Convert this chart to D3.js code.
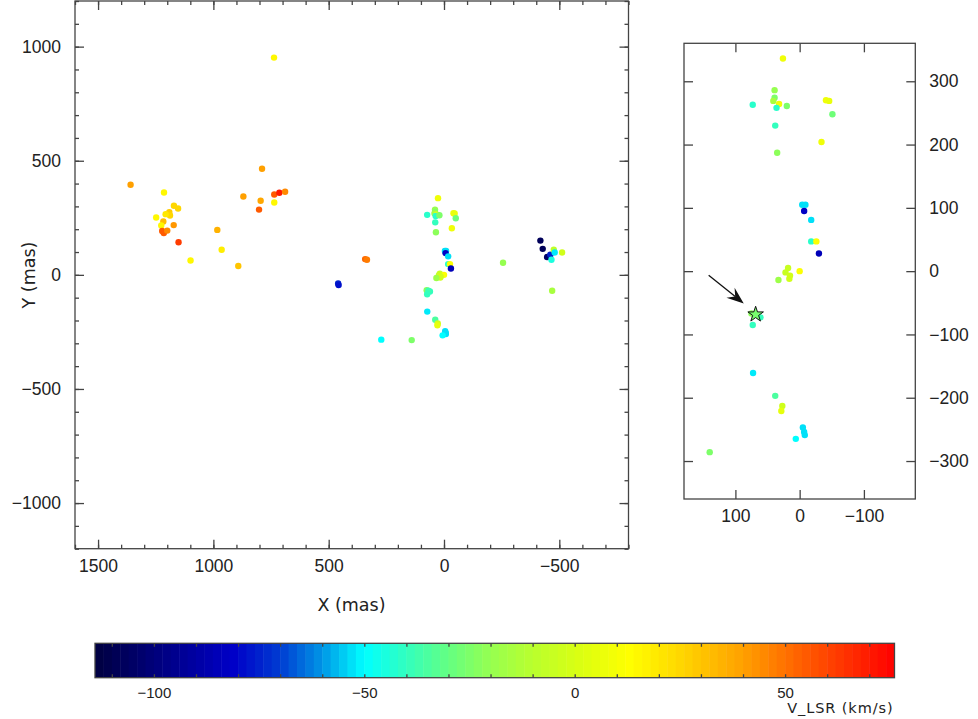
<!DOCTYPE html>
<html><head><meta charset="utf-8">
<script src="https://cdn.jsdelivr.net/npm/d3@7"></script>
<style>
body{margin:0;background:#fff;}
svg{display:block;font-family:"DejaVu Sans",sans-serif;}
.axis path{display:none;}
.axis line{stroke:#444;stroke-width:1.3;}
.axis text{fill:#222;}
</style></head>
<body>
<svg id="c" width="978" height="719"></svg>
<script>
// ---- data: maser spots (x, y in mas; v = V_LSR km/s) ----
const spotX = [1359,1214,1171,1153,1191,1188,1207,1248,1217,1226,1172,1222,1215,1200,1151,1099,983,964,892,789,870,795,802,736,714,689,736,737,
  459,457,342,334,272,-256,
  -418,-428,-447,-461,-476,-480,-466,-512,-469,
  26,39,73,39,41,32,36,20,-41,-46,-51,38,-34,35,-4,-9,-7,-18,-18,-26,-30,18,0,22,15,16,33,75,61,68,73,72.5,38,27,28.5,-5,-7,-8,6,140];
const spotY = [395,361,303,291,275,260,266,251,234,216,218,192,183,194,143,63,197,110,39,465,343,325,286,352,360,364,317,952,
  -38,-45,69,66,-284,53,
  150,114,78,88,110,98,66,98,-70,
  336,286,263,274,269,264,258,261,270,269,248,230,204,187,105,105,95,81,47,47,28,5,0,-2,-7,-12,-14,-67,-73,-69,-85,-161,-197,-213,-221,-247,-254,-259,-265,-286];
const spotV = [40,15,25,25,28,25,20,15,32,15,42,55,55,45,62,15,35,18,30,40,40,38,55,55,70,45,15,15,
  -75,-78,52,48,-50,-20,
  -108,-108,-105,-75,-8,-52,-45,-2,-15,
  8,-20,-42,-25,-15,8,-42,-25,8,6,-28,-40,8,-22,-53,-53,-82,-53,-42,12,-85,-5,12,-5,-2,-2,-18,-22,-40,-38,-40,-52,-35,-3,5,-53,-53,-53,-50,-25];

// reference star and arrow (inset units, mas)
const starPos = [68.5, -68.4];
const starV = -26;
const arrowFrom = [141.6, -6.3];
const arrowTo = [87, -51];

// axis ticks
const mainXTicks = [1500,1000,500,0,-500];
const mainYTicks = [-1000,-500,0,500,1000];
const insetTicksX = [100,0,-100];
const insetTicksY = [-300,-200,-100,0,100,200,300];
const cbarTicks = [-100,-50,0,50];

// colormap stops
const cmapV = [-114,-81,-70,-60,-50,-40,-30,-20,-10,0,13,25,40,55,76];
const cmapC = ["#000040","#0000c8","#003cd2","#0096e6","#00ffff","#32ffbe","#64ff82","#96ff50","#b9ff2d","#d7ff14","#ffff00","#ffd700","#ffa000","#ff5a00","#ff0000"];
const vRange = [-114, 76];

const svg = d3.select("#c");
const fmt = d3.format("d");
const color = d3.scaleLinear().domain(cmapV).range(cmapC).interpolate(d3.interpolateRgb).clamp(true);
const spots = spotX.map((x,i)=>({x, y:spotY[i], v:spotV[i]}));

function frame(g, x0, x1, y0, y1){
  g.append("rect").attr("x",x0).attr("y",y0).attr("width",x1-x0).attr("height",y1-y0)
    .attr("fill","none").attr("stroke","#444").attr("stroke-width",1.3);
}
const fs = "17.5px";

// ---------- main panel ----------
const xM = d3.scaleLinear([1600,-800],[75,628.5]);
const yM = d3.scaleLinear([-1200,1200],[548.7,1]);
const minorX = d3.range(-800,1601,100), minorY = d3.range(-1200,1201,100);
const gm = svg.append("g");
gm.append("g").attr("class","axis").attr("transform","translate(0,548.7)")
  .call(d3.axisBottom(xM).tickValues(minorX).tickSize(-4).tickFormat(""));
gm.append("g").attr("class","axis").attr("transform","translate(0,548.7)").style("font-size",fs)
  .call(d3.axisBottom(xM).tickValues(mainXTicks).tickSize(-9).tickPadding(11).tickFormat(fmt));
gm.append("g").attr("class","axis").attr("transform","translate(0,1)")
  .call(d3.axisTop(xM).tickValues(minorX).tickSize(-4).tickFormat(""));
gm.append("g").attr("class","axis").attr("transform","translate(0,1)")
  .call(d3.axisTop(xM).tickValues(mainXTicks).tickSize(-9).tickFormat(""));
gm.append("g").attr("class","axis").attr("transform","translate(75,0)")
  .call(d3.axisLeft(yM).tickValues(minorY).tickSize(-4).tickFormat(""));
gm.append("g").attr("class","axis").attr("transform","translate(75,0)").style("font-size",fs)
  .call(d3.axisLeft(yM).tickValues(mainYTicks).tickSize(-9).tickPadding(14).tickFormat(fmt));
gm.append("g").attr("class","axis").attr("transform","translate(628.5,0)")
  .call(d3.axisRight(yM).tickValues(minorY).tickSize(-4).tickFormat(""));
gm.append("g").attr("class","axis").attr("transform","translate(628.5,0)")
  .call(d3.axisRight(yM).tickValues(mainYTicks).tickSize(-9).tickFormat(""));
gm.selectAll("g.axis text").attr("font-family",null);
frame(gm,75,628.5,1,548.7);
gm.append("g").selectAll("circle").data(spots).join("circle")
  .attr("cx",d=>xM(d.x)).attr("cy",d=>yM(d.y)).attr("r",3.2).attr("fill",d=>color(d.v));
gm.append("text").attr("x",351.5).attr("y",611).attr("text-anchor","middle").style("font-size",fs).attr("fill","#222").text("X (mas)");
gm.append("text").attr("transform","translate(35,275) rotate(-90)").attr("text-anchor","middle").style("font-size",fs).attr("fill","#222").text("Y (mas)");

// ---------- inset panel ----------
const xI = d3.scaleLinear([180,-180],[684,915.3]);
const yI = d3.scaleLinear([-360,360],[499,43.3]);
const gi = svg.append("g");
gi.append("defs").append("clipPath").attr("id","clipI").append("rect")
  .attr("x",684).attr("y",43.3).attr("width",231.3).attr("height",455.7);
gi.append("g").attr("class","axis").attr("transform","translate(0,499)").style("font-size",fs)
  .call(d3.axisBottom(xI).tickValues(insetTicksX).tickSize(-9).tickPadding(11).tickFormat(fmt));
gi.append("g").attr("class","axis").attr("transform","translate(0,43.3)")
  .call(d3.axisTop(xI).tickValues(insetTicksX).tickSize(-9).tickFormat(""));
gi.append("g").attr("class","axis").attr("transform","translate(684,0)")
  .call(d3.axisLeft(yI).tickValues(insetTicksY).tickSize(-9).tickFormat(""));
gi.append("g").attr("class","axis").attr("transform","translate(915.3,0)").style("font-size",fs)
  .call(d3.axisRight(yI).tickValues(insetTicksY).tickSize(-9).tickPadding(14).tickFormat(fmt));
gi.selectAll("g.axis text").attr("font-family",null);
frame(gi,684,915.3,43.3,499);
const gic = gi.append("g").attr("clip-path","url(#clipI)");
gic.selectAll("circle").data(spots.filter(d=>Math.abs(d.x)<=180 && Math.abs(d.y)<=360)).join("circle")
  .attr("cx",d=>xI(d.x)).attr("cy",d=>yI(d.y)).attr("r",3.2).attr("fill",d=>color(d.v));
gic.append("path").attr("d",d3.symbol(d3.symbolStar,75)())
  .attr("transform",`translate(${xI(starPos[0])},${yI(starPos[1])})`)
  .attr("fill",color(starV)).attr("stroke","#111").attr("stroke-width",1);
// arrow
{
  const x1=xI(arrowFrom[0]), y1=yI(arrowFrom[1]), x2=xI(arrowTo[0]), y2=yI(arrowTo[1]);
  const dx=x2-x1, dy=y2-y1, L=Math.hypot(dx,dy), ux=dx/L, uy=dy/L, px=-uy, py=ux;
  const hl=17, hw=6.5, notch=11;
  gi.append("line").attr("x1",x1).attr("y1",y1).attr("x2",x2-ux*notch).attr("y2",y2-uy*notch)
    .attr("stroke","#111").attr("stroke-width",1.3);
  const pts=[[x2,y2],[x2-ux*hl+px*hw,y2-uy*hl+py*hw],[x2-ux*notch,y2-uy*notch],[x2-ux*hl-px*hw,y2-uy*hl-py*hw]];
  gi.append("path").attr("d","M"+pts.map(p=>p.join(",")).join("L")+"Z").attr("fill","#111");
}

// ---------- colour bar ----------
const xC = d3.scaleLinear(vRange,[95,894.5]);
const gc = svg.append("g");
const step = 2;
const bands = d3.range(vRange[0], vRange[1], step);
gc.selectAll("rect.b").data(bands).join("rect").attr("class","b")
  .attr("x",d=>xC(d)).attr("y",643.3).attr("width",d=>xC(Math.min(d+step,vRange[1]))-xC(d)+0.5).attr("height",34.4)
  .attr("fill",d=>color(d+step/2));
const cTicks = d3.range(-110,76,10);
gc.append("g").attr("class","axis").attr("transform","translate(0,677.7)")
  .call(d3.axisBottom(xC).tickValues(cTicks).tickSize(-3.5).tickFormat(""));
gc.append("g").attr("class","axis").attr("transform","translate(0,643.3)")
  .call(d3.axisTop(xC).tickValues(cTicks).tickSize(-3.5).tickFormat(""));
gc.append("g").attr("class","axis").attr("transform","translate(0,677.7)").style("font-size","15px")
  .call(d3.axisBottom(xC).tickValues(cbarTicks).tickSize(0).tickPadding(9.5).tickFormat(fmt));
gc.selectAll("g.axis text").attr("font-family",null);
frame(gc,95,894.5,643.3,677.7);
gc.append("text").attr("x",893.5).attr("y",713).attr("text-anchor","end").style("font-size","14.5px")
  .attr("fill","#222").attr("letter-spacing","0.9px").text("V_LSR (km/s)");
</script>
</body></html>
